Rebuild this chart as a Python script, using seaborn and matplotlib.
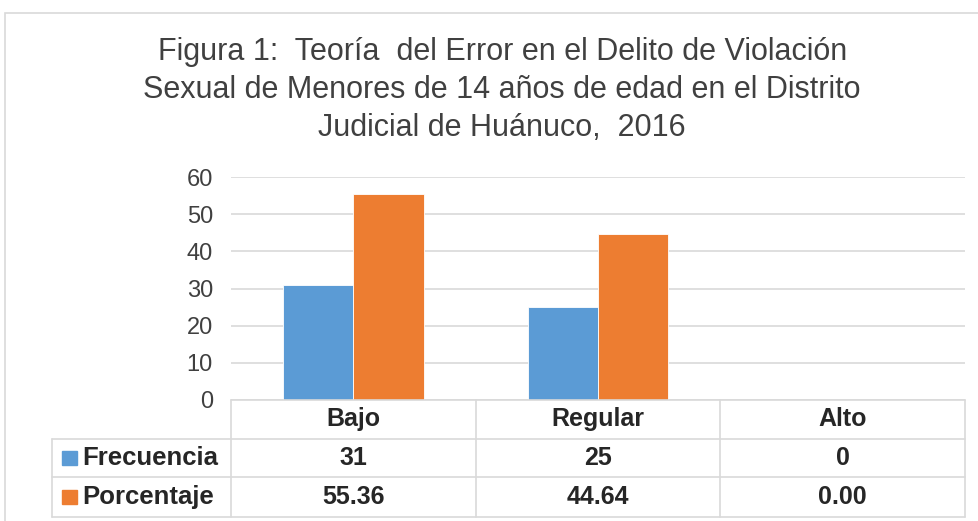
import pandas as pd
import seaborn as sns
import matplotlib.pyplot as plt
from matplotlib.patches import Rectangle
from matplotlib.transforms import blended_transform_factory

categorias = ['Bajo', 'Regular', 'Alto']
frecuencia = [31, 25, 0]
porcentaje = [55.36, 44.64, 0.00]
series = ['Frecuencia', 'Porcentaje']
colores = ['#5B9BD5', '#ED7D31']

titulo = ('Figura 1:  Teoría  del Error en el Delito de Violación\n'
          'Sexual de Menores de 14 años de edad en el Distrito\n'
          'Judicial de Huánuco,  2016')

df = pd.DataFrame({
    'Nivel': categorias * 2,
    'Serie': [series[0]] * 3 + [series[1]] * 3,
    'Valor': frecuencia + porcentaje,
})

sns.set_style('white')
plt.rcParams['font.family'] = ['Liberation Sans', 'DejaVu Sans']

fig = plt.figure(figsize=(9.79, 5.21), dpi=100)
ax = fig.add_axes([231 / 979, 121 / 521, 734 / 979, 223 / 521])

sns.barplot(data=df, x='Nivel', y='Valor', hue='Serie', palette=colores,
            width=0.574, saturation=1, legend=False, ax=ax,
            edgecolor='white', linewidth=0.6)

ax.set_ylim(0, 60)
ax.set_yticks(range(0, 61, 10))
ax.set_xlabel('')
ax.set_ylabel('')
ax.set_xticks([])
ax.tick_params(axis='y', length=0, pad=13, labelsize=17, labelcolor='#404040')
for s in ax.spines.values():
    s.set_visible(False)
ax.yaxis.grid(True, color='#d9d9d9', linewidth=1.2)
ax.set_axisbelow(True)

# tabla de datos bajo el eje
tr = blended_transform_factory(ax.transData, ax.transAxes)
gris = '#d9d9d9'
x0, x1 = -0.5, 2.5
xl = -1.23
filas_y = [0.0, -0.175, -0.345, -0.525]
ax.plot([x0, x1], [filas_y[0]] * 2, transform=tr, color=gris, lw=1.2, clip_on=False)
for yy in filas_y[1:]:
    ax.plot([xl, x1], [yy] * 2, transform=tr, color=gris, lw=1.2, clip_on=False)
for xx in [-0.5, 0.5, 1.5, 2.5]:
    ax.plot([xx, xx], [filas_y[0], filas_y[-1]], transform=tr, color=gris, lw=1.2, clip_on=False)
ax.plot([xl, xl], [filas_y[1], filas_y[-1]], transform=tr, color=gris, lw=1.2, clip_on=False)

txt = dict(transform=tr, ha='center', va='center', fontsize=18,
           fontweight='bold', color='#262626', clip_on=False)
for i, c in enumerate(categorias):
    ax.text(i, -0.085, c, **txt)
    ax.text(i, -0.26, f'{frecuencia[i]}', **txt)
    ax.text(i, -0.435, f'{porcentaje[i]:.2f}', **txt)

for nombre, col, yc in zip(series, colores, [-0.26, -0.435]):
    ax.add_patch(Rectangle((-1.189, yc - 0.03), 0.061, 0.06, transform=tr,
                           color=col, clip_on=False))
    ax.text(-1.107, yc, nombre, transform=tr, ha='left', va='center', fontsize=18.5,
            fontweight='bold', color='#262626', clip_on=False)

ax.set_xlim(-0.5, 2.5)

fig.text(0.513, 0.827, titulo, ha='center', va='center', fontsize=22,
         color='#404040', linespacing=1.35)

fig.patches.append(Rectangle((5 / 979, -0.05), 1.0, 1 - 13 / 521 + 0.05,
                             transform=fig.transFigure, fill=False,
                             edgecolor='#d9d9d9', lw=1.2))

fig.savefig('out.png', dpi=100)
